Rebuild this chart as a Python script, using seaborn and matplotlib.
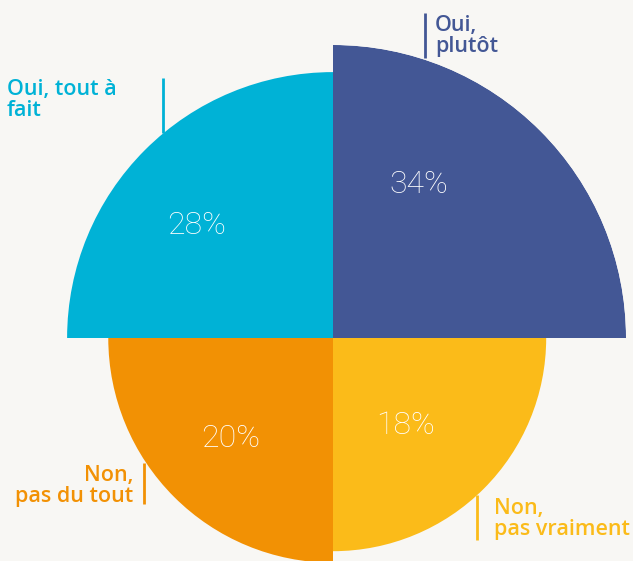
import numpy as np
import matplotlib
matplotlib.use("Agg")
import matplotlib.pyplot as plt
import seaborn as sns

# data
categories = ["Oui,\nplutôt", "Oui, tout à\nfait", "Non,\npas du tout", "Non,\npas vraiment"]
values = [34, 28, 20, 18]
pct_labels = ["34%", "28%", "20%", "18%"]
colors = ["#435795", "#00b2d6", "#f29104", "#fbbb19"]

sns.set_theme(style="white")
plt.rcParams["font.family"] = ["Open Sans", "DejaVu Sans"]
bg = "#f8f7f4"

W, H = 633, 561
fig = plt.figure(figsize=(W / 100, H / 100), dpi=100, facecolor=bg)

# polar area chart: radius ~ sqrt(value) so the area is proportional
cx, cy = 333, 338          # centre in pixels (from top-left)
scale = 50.25              # pixels per sqrt(percent)
rmax = np.sqrt(max(values))
R = scale * rmax
ax = fig.add_axes([(cx - R) / W, (H - cy - R) / H, 2 * R / W, 2 * R / H], projection="polar")
ax.set_facecolor("none")
thetas = np.deg2rad([45, 135, 225, 315])
ax.bar(thetas, np.sqrt(values), width=np.pi / 2, color=colors, linewidth=0, align="center")
ax.set_ylim(0, rmax)
ax.set_axis_off()

# percentage labels inside the wedges
pct_angles = [60.8, 140.5, 224.4, -50.4]
pct_radius = [3.50, 3.53, 2.85, 2.25]
for a, r, txt in zip(pct_angles, pct_radius, pct_labels):
    ax.text(np.deg2rad(a), r, txt, ha="center", va="center", color="white",
            fontsize=23, fontweight="light", family=["Roboto", "DejaVu Sans"])

# overlay in pixel space for category labels and leader lines
ov = fig.add_axes([0, 0, 1, 1])
ov.set_xlim(0, W)
ov.set_ylim(H, 0)
ov.set_axis_off()
ov.set_facecolor("none")

label_pos = [(435, 15, "left"), (7, 79, "left"), (133, 465, "right"), (494, 498, "left")]
leaders = [((425, 13), (425, 58)), ((163, 78), (163, 133)),
           ((144, 463), (144, 504)), ((477, 495), (477, 540))]
for (x, y, ha), (p0, p1), txt, c in zip(label_pos, leaders, categories, colors):
    ov.text(x, y, txt, ha=ha, va="top", color=c, fontsize=15.5,
            fontweight="semibold", linespacing=1.0, multialignment=ha)
    ov.plot([p0[0], p1[0]], [p0[1], p1[1]], color=c, lw=2, solid_capstyle="butt")

fig.savefig("out.png", dpi=100, facecolor=bg)
